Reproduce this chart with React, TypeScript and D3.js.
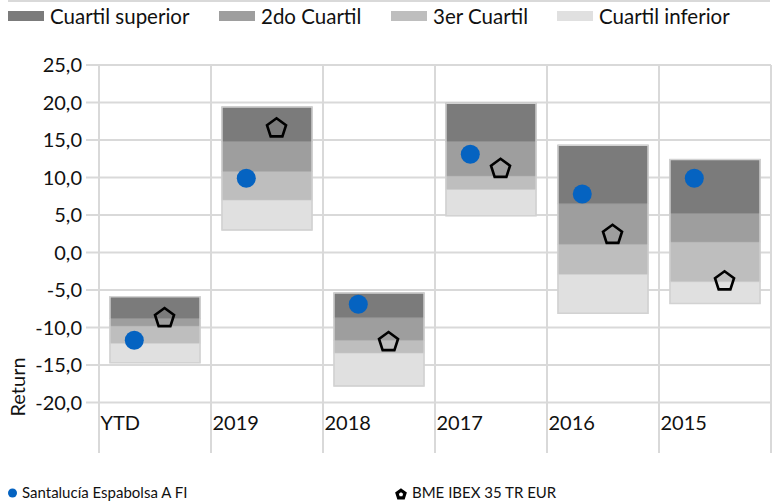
import React from 'react';
import * as d3 from 'd3';

const categories = ["YTD", "2019", "2018", "2017", "2016", "2015"];
const maxVals = [-5.9, 19.4, -5.4, 19.9, 14.3, 12.4];
const q1Vals = [-8.8, 14.8, -8.7, 14.8, 6.5, 5.2];
const medianVals = [-9.8, 10.8, -11.7, 10.2, 1.1, 1.4];
const q3Vals = [-12.1, 7.0, -13.4, 8.4, -2.9, -3.9];
const minVals = [-14.7, 3.0, -17.8, 4.9, -8.1, -6.8];
const fundVals = [-11.7, 9.9, -6.9, 13.1, 7.8, 9.9];
const indexVals = [-8.6, 16.7, -11.8, 11.3, 2.5, -3.7];
const yTicks = [-20, -15, -10, -5, 0, 5, 10, 15, 20, 25];
const quartileNames = ["Cuartil superior", "2do Cuartil", "3er Cuartil", "Cuartil inferior"];
const quartileColors = ["#7b7b7b", "#9e9e9e", "#bebebe", "#e0e0e0"];
const seriesNames = ["Santalucía Espabolsa A FI", "BME IBEX 35 TR EUR"];

const W = 780;
const H = 501;
const FONT = "Lato, 'Open Sans', sans-serif";
const GRID = "#d9d9d9";
const BLUE = "#0563c1";
const TXT = "#111";

const locale = d3.formatLocale({ decimal: ",", thousands: ".", grouping: [3], currency: ["", "€"], minus: "-" });
const fmt = locale.format(".1f");

function pentagon(r: number): string {
  const p = d3.path();
  for (let i = 0; i < 5; i++) {
    const a = -Math.PI / 2 + (i * 2 * Math.PI) / 5;
    const px = r * Math.cos(a);
    const py = r * Math.sin(a);
    if (i === 0) p.moveTo(px, py);
    else p.lineTo(px, py);
  }
  p.closePath();
  return p.toString();
}

export default function App() {
  const x = d3.scaleBand<string>().domain(categories).range([99, 771]).paddingInner(0).paddingOuter(0);
  const y = d3.scaleLinear().domain([-20, 25]).range([402.5, 65]);
  const bw = x.bandwidth();
  const boxOff = bw * 0.098;
  const boxW = bw * 0.804;
  const plotTop = y(25);
  const plotBottom = 453;
  const bounds = [...categories.map((c) => x(c) as number), 771];

  const segments = categories.map((c, i) => {
    const levels = [maxVals[i], q1Vals[i], medianVals[i], q3Vals[i], minVals[i]];
    return levels.slice(0, 4).map((top, k) => ({ top, bottom: levels[k + 1], color: quartileColors[k] }));
  });

  const legendX = [8, 219, 391, 557];

  return (
    <svg width={W} height={H} style={{ position: 'absolute', left: 0, top: 0, background: '#fff' }} fontFamily={FONT}>
      <line x1={8} x2={770} y1={1} y2={1} stroke={GRID} strokeWidth={2} />

      {/* top legend */}
      {quartileNames.map((n, i) => (
        <g key={n}>
          <rect x={legendX[i]} y={11} width={36} height={10} fill={quartileColors[i]} />
          <text x={legendX[i] + 42} y={23.5} fontSize={20.5} fill={TXT}>{n}</text>
        </g>
      ))}

      {/* horizontal gridlines */}
      {yTicks.map((t) => (
        <line key={t} x1={86} x2={771} y1={y(t)} y2={y(t)} stroke={GRID} strokeWidth={2} />
      ))}
      {/* vertical gridlines */}
      {bounds.map((bx, i) => (
        <line key={i} x1={bx} x2={bx} y1={plotTop} y2={plotBottom} stroke={GRID} strokeWidth={2} />
      ))}

      {/* y tick labels */}
      {yTicks.map((t) => (
        <text key={t} x={82} y={y(t)} dy="0.36em" textAnchor="end" fontSize={20} fill={TXT}>{fmt(t)}</text>
      ))}

      {/* category labels */}
      {categories.map((c) => (
        <text key={c} x={(x(c) as number) + 1.5} y={430} fontSize={20} fill={TXT}>{c}</text>
      ))}

      <text transform="translate(25,387) rotate(-90)" textAnchor="middle" fontSize={20} fill={TXT}>Return</text>

      {/* boxes */}
      {categories.map((c, i) => (
        <g key={c}>
          {segments[i].map((s, k) => (
            <rect key={k} x={(x(c) as number) + boxOff} width={boxW} y={y(s.top)} height={y(s.bottom) - y(s.top)}
              fill={s.color} stroke={d3.color(s.color)!.darker(0.25).formatHex()} strokeWidth={0.8} />
          ))}
          <rect x={(x(c) as number) + boxOff} width={boxW} y={y(maxVals[i])} height={y(minVals[i]) - y(maxVals[i])}
            fill="none" stroke="#d2d2d2" strokeWidth={1.5} />
        </g>
      ))}

      {/* fund dots */}
      {categories.map((c, i) => (
        <circle key={c} cx={(x(c) as number) + bw * 0.315} cy={y(fundVals[i])} r={9.5} fill={BLUE} />
      ))}
      {/* index pentagons */}
      {categories.map((c, i) => (
        <path key={c} d={pentagon(10)} transform={`translate(${(x(c) as number) + bw * 0.585},${y(indexVals[i]) + 1})`}
          fill="none" stroke="#000" strokeWidth={2.6} strokeLinejoin="miter" />
      ))}

      {/* bottom legend */}
      <circle cx={12.5} cy={493} r={4.5} fill={BLUE} />
      <text x={22} y={498} fontSize={15} fill={TXT}>{seriesNames[0]}</text>
      <path d={pentagon(4.2)} transform="translate(401,494.5)" fill="#fff" stroke="#000" strokeWidth={3.2} />
      <text x={412} y={498} fontSize={15} fill={TXT}>{seriesNames[1]}</text>
    </svg>
  );
}
